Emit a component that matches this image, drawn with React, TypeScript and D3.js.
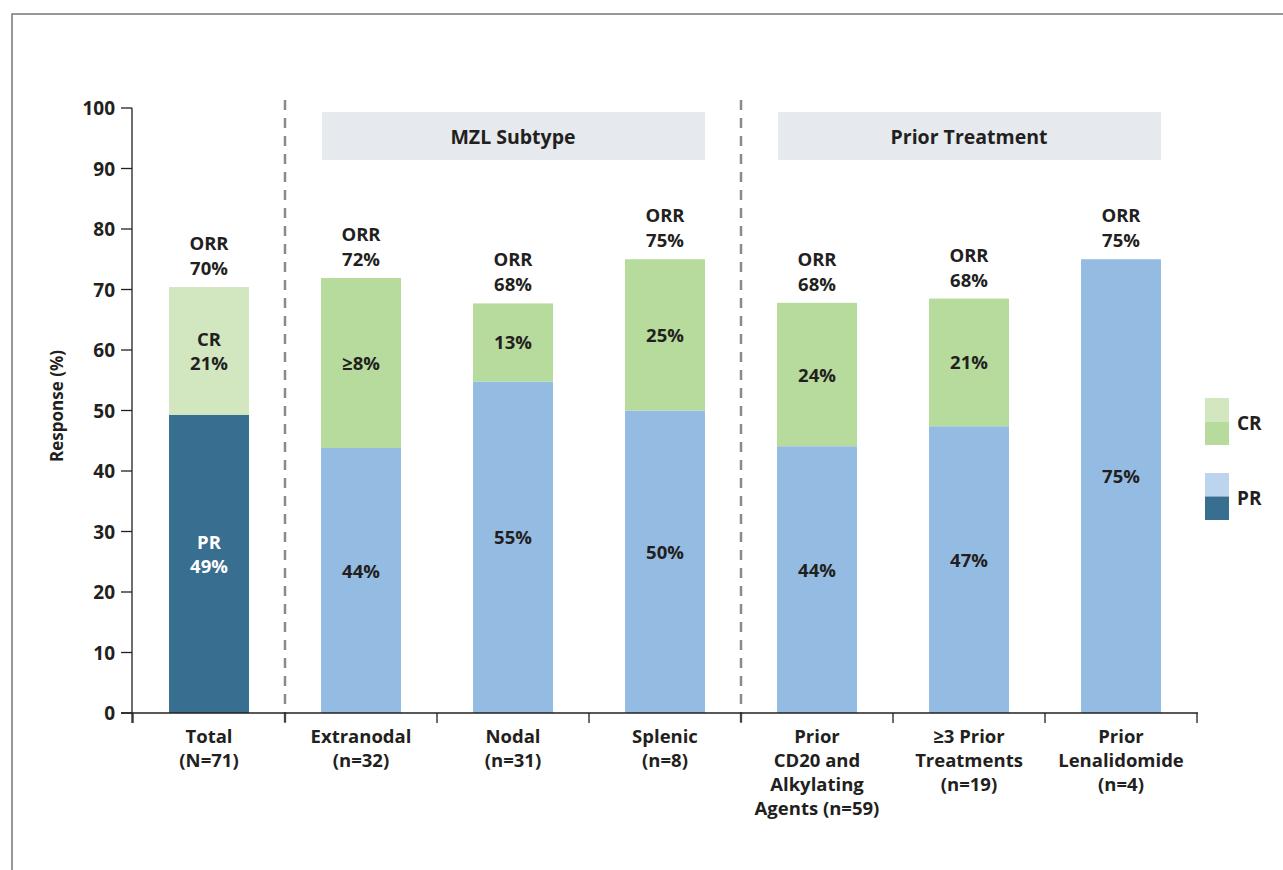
import React from "react";
import * as d3 from "d3";

const categories = [
  ["Total", "(N=71)"],
  ["Extranodal", "(n=32)"],
  ["Nodal", "(n=31)"],
  ["Splenic", "(n=8)"],
  ["Prior", "CD20 and", "Alkylating", "Agents (n=59)"],
  ["≥3 Prior", "Treatments", "(n=19)"],
  ["Prior", "Lenalidomide", "(n=4)"],
];
const prValues = [49.3, 43.8, 54.8, 50, 44.1, 47.4, 75];
const crValues = [21.1, 28.1, 12.9, 25, 23.7, 21.1, 0];
const orrLabels = ["70%", "72%", "68%", "75%", "68%", "68%", "75%"];
const prLabels = [["PR", "49%"], ["44%"], ["55%"], ["50%"], ["44%"], ["47%"], ["75%"]];
const crLabels = [["CR", "21%"], ["≥8%"], ["13%"], ["25%"], ["24%"], ["21%"], []];
const yTicks = [0, 10, 20, 30, 40, 50, 60, 70, 80, 90, 100];
const groups = [
  { label: "MZL Subtype", from: 1, to: 3 },
  { label: "Prior Treatment", from: 4, to: 6 },
];
const legendItems = ["CR", "PR"];

const FONT = "'Open Sans', 'DejaVu Sans', sans-serif";
const TXT = "#231f20";
const FS = 18.5;

export default function App() {
  const W = 1283, H = 870;
  const x0 = 133, x1 = 1197;
  const x = d3.scaleBand<number>().domain(d3.range(categories.length)).range([x0, x1]).paddingInner(0.474).paddingOuter(0.237);
  const y = d3.scaleLinear().domain([0, 100]).range([713, 108]);
  const bw = x.bandwidth();
  const step = x.step();
  const boundary = (i: number) => x0 + step * i;

  const prColor = (i: number) => (i === 0 ? "#386e90" : "#94bce3");
  const crColor = (i: number) => (i === 0 ? "#d2e6c0" : "#b6db9c");

  return (
    <svg width={W} height={H} style={{ position: "absolute", left: 0, top: 0, background: "#fff" }} fontFamily={FONT}>
      {/* frame */}
      <path d={`M12,${H} L12,14 L${W},14`} fill="none" stroke="#777" strokeWidth={1.5} />

      {/* group headers */}
      {groups.map((g) => {
        const left = x(g.from)!;
        const right = x(g.to)! + bw;
        return (
          <g key={g.label}>
            <rect x={left + 1} y={112} width={right - left - 1} height={48} fill="#e6e9ee" />
            <text x={(left + right) / 2} y={143.5} textAnchor="middle" fontSize={19.5} fontWeight={700} fill={TXT}>
              {g.label}
            </text>
          </g>
        );
      })}

      {/* dashed separators */}
      {[1, 4].map((i) => (
        <line key={i} x1={boundary(i)} x2={boundary(i)} y1={100} y2={723} stroke="#8a8a8a" strokeWidth={2.5} strokeDasharray="10,8" />
      ))}

      {/* bars */}
      {categories.map((_, i) => {
        const bx = x(i)!;
        const cx = bx + bw / 2;
        const pr = prValues[i];
        const cr = crValues[i];
        const top = y(pr + cr);
        return (
          <g key={i}>
            <rect x={bx} y={y(pr)} width={bw} height={y(0) - y(pr)} fill={prColor(i)} />
            {cr > 0 && <rect x={bx} y={y(pr + cr)} width={bw} height={y(pr) - y(pr + cr)} fill={crColor(i)} />}
            {/* ORR label */}
            <text textAnchor="middle" fontSize={FS} fontWeight={700} fill={TXT}>
              <tspan x={cx} y={top - 37}>ORR</tspan>
              <tspan x={cx} y={top - 12}>{orrLabels[i]}</tspan>
            </text>
            {/* PR label */}
            {(() => {
              const lines = prLabels[i];
              const mid = (y(0) + y(pr)) / 2 - 10;
              return (
                <text textAnchor="middle" fontSize={FS} fontWeight={700} fill={i === 0 ? "#fff" : TXT}>
                  {lines.map((l, k) => (
                    <tspan key={k} x={cx} y={mid + (k - (lines.length - 1) / 2) * 24 + 7}>{l}</tspan>
                  ))}
                </text>
              );
            })()}
            {cr > 0 && (() => {
              const lines = crLabels[i];
              const mid = (y(pr) + y(pr + cr)) / 2;
              return (
                <text textAnchor="middle" fontSize={FS} fontWeight={700} fill={TXT}>
                  {lines.map((l, k) => (
                    <tspan key={k} x={cx} y={mid + (k - (lines.length - 1) / 2) * 24 + 7}>{l}</tspan>
                  ))}
                </text>
              );
            })()}
            {/* category label */}
            <text textAnchor="middle" fontSize={FS} fontWeight={700} fill={TXT}>
              {categories[i].map((l, k) => (
                <tspan key={k} x={cx} y={743 + k * 24}>{l}</tspan>
              ))}
            </text>
          </g>
        );
      })}

      {/* y axis */}
      <line x1={132} x2={132} y1={y(100)} y2={723} stroke="#231f20" strokeWidth={1.3} />
      {yTicks.map((t) => (
        <g key={t}>
          <line x1={121} x2={132} y1={y(t)} y2={y(t)} stroke="#231f20" strokeWidth={1.3} />
          <text x={115} y={y(t) + 7} textAnchor="end" fontSize={19} fontWeight={700} fill={TXT}>{t}</text>
        </g>
      ))}
      {/* x axis */}
      <line x1={121} x2={x1 + 1} y1={y(0)} y2={y(0)} stroke="#231f20" strokeWidth={1.3} />
      {d3.range(categories.length + 1).map((i) => (
        <line key={i} x1={boundary(i)} x2={boundary(i)} y1={y(0)} y2={723} stroke="#231f20" strokeWidth={1.3} />
      ))}

      <text transform="translate(63,406) rotate(-90)" textAnchor="middle" fontSize={17} fontWeight={700} fill={TXT}>
        Response (%)
      </text>

      {/* legend */}
      {legendItems.map((name, k) => {
        const ly = 398 + k * 75;
        const c1 = name === "CR" ? "#d2e6c0" : "#bcd4ee";
        const c2 = name === "CR" ? "#b6db9c" : "#386e90";
        return (
          <g key={name}>
            <rect x={1205} y={ly} width={24} height={23.5} fill={c1} />
            <rect x={1205} y={ly + 23.5} width={24} height={23.5} fill={c2} />
            <text x={1237} y={ly + 32} fontSize={19} fontWeight={700} fill={TXT}>{name}</text>
          </g>
        );
      })}
    </svg>
  );
}
